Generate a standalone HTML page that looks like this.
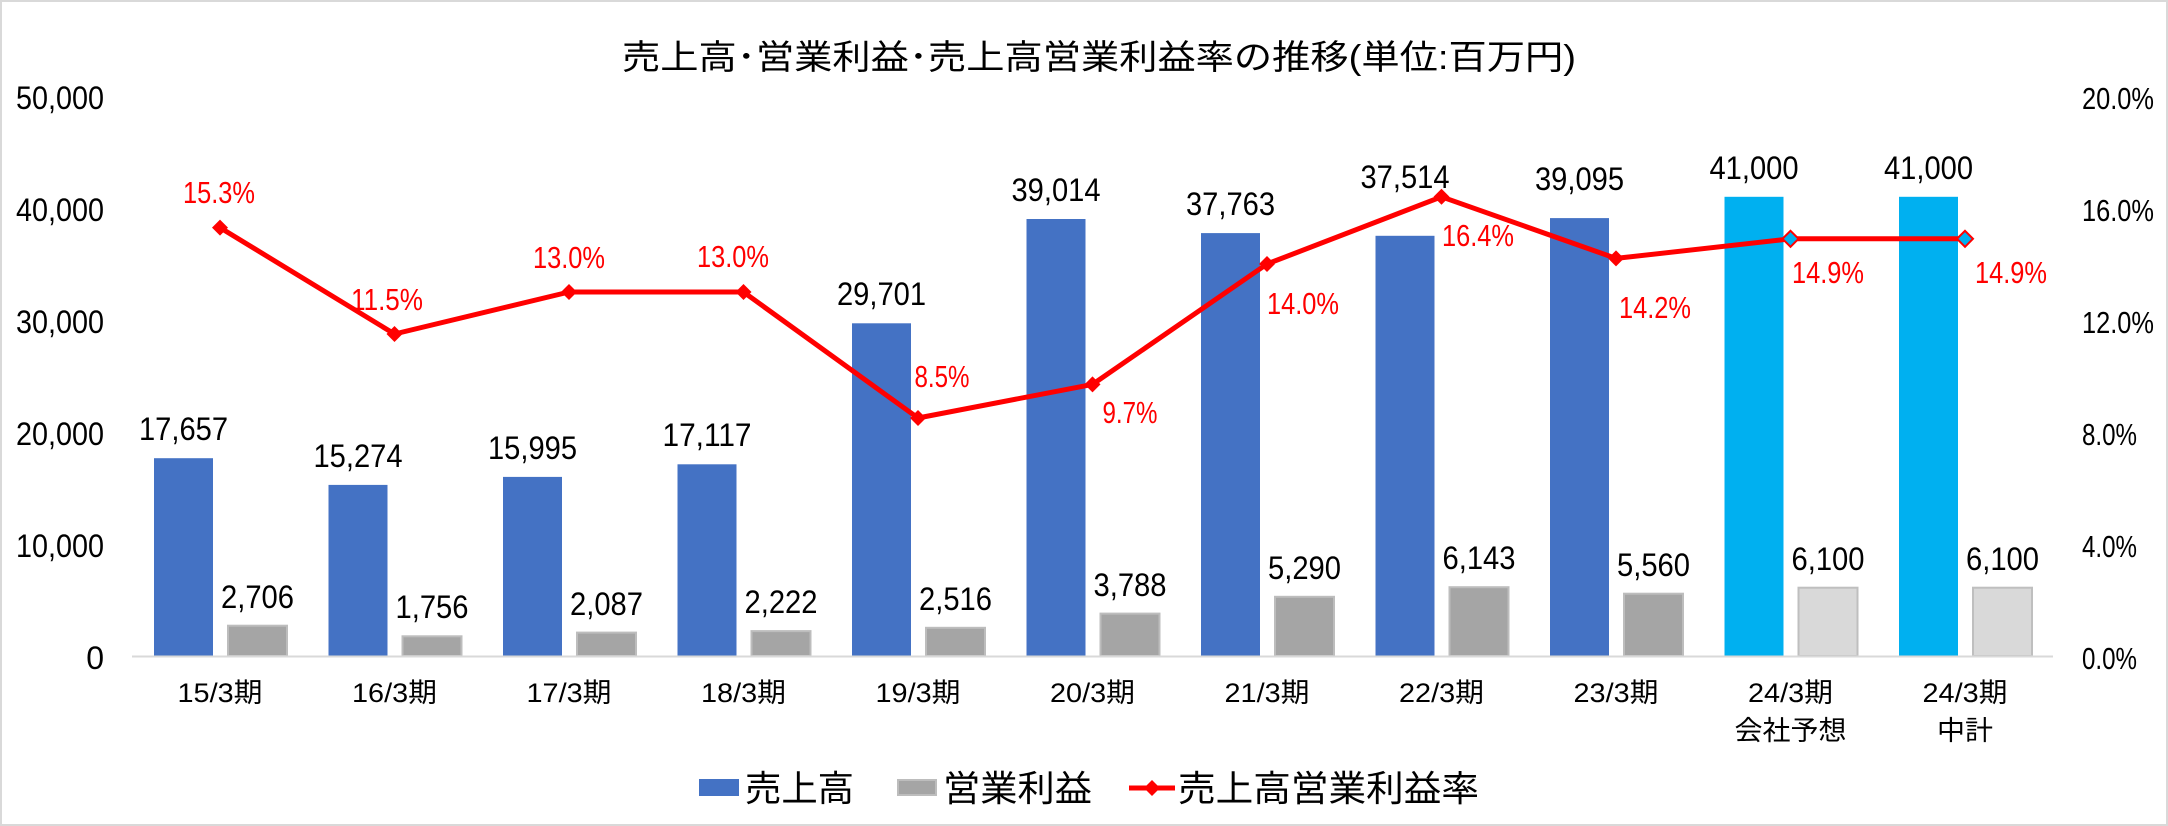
<!DOCTYPE html>
<html><head><meta charset="utf-8"><style>
html,body{margin:0;padding:0;background:#fff;}
svg{display:block;}
text{font-family:"Liberation Sans","Noto Sans CJK JP",sans-serif;}
</style></head><body>
<svg width="2168" height="826" viewBox="0 0 2168 826" xmlns="http://www.w3.org/2000/svg">
<rect x="1" y="1" width="2166" height="824" fill="#fff" stroke="#d9d9d9" stroke-width="2"/>
<text x="622" y="69" font-size="34" textLength="954" lengthAdjust="spacingAndGlyphs" fill="#000">売上高･営業利益･売上高営業利益率の推移(単位:百万円)</text>

<g font-size="32" fill="#000" text-anchor="end">
<text x="104" y="109" textLength="88" lengthAdjust="spacingAndGlyphs">50,000</text>
<text x="104" y="221" textLength="88" lengthAdjust="spacingAndGlyphs">40,000</text>
<text x="104" y="333" textLength="88" lengthAdjust="spacingAndGlyphs">30,000</text>
<text x="104" y="445" textLength="88" lengthAdjust="spacingAndGlyphs">20,000</text>
<text x="104" y="557" textLength="88" lengthAdjust="spacingAndGlyphs">10,000</text>
<text x="104" y="669">0</text>
</g>
<g font-size="31" fill="#000">
<text x="2082" y="109" textLength="72" lengthAdjust="spacingAndGlyphs">20.0%</text>
<text x="2082" y="221" textLength="72" lengthAdjust="spacingAndGlyphs">16.0%</text>
<text x="2082" y="333" textLength="72" lengthAdjust="spacingAndGlyphs">12.0%</text>
<text x="2082" y="445" textLength="55" lengthAdjust="spacingAndGlyphs">8.0%</text>
<text x="2082" y="557" textLength="55" lengthAdjust="spacingAndGlyphs">4.0%</text>
<text x="2082" y="669" textLength="55" lengthAdjust="spacingAndGlyphs">0.0%</text>
</g>

<g fill="#4472C4">
<rect x="154" y="458.2" width="59" height="197.8"/>
<rect x="328.5" y="484.9" width="59" height="171.1"/>
<rect x="503" y="476.9" width="59" height="179.1"/>
<rect x="677.5" y="464.3" width="59" height="191.7"/>
<rect x="852" y="323.3" width="59" height="332.7"/>
<rect x="1026.5" y="219" width="59" height="437"/>
<rect x="1201" y="233.1" width="59" height="422.9"/>
<rect x="1375.5" y="235.8" width="59" height="420.2"/>
<rect x="1550" y="218.1" width="59" height="437.9"/>
</g>
<g fill="#00B0F0">
<rect x="1724.5" y="196.8" width="59" height="459.2"/>
<rect x="1899" y="196.8" width="59" height="459.2"/>
</g>
<g fill="#A5A5A5" stroke="#BDBDBD" stroke-width="2">
<rect x="228" y="625.7" width="59" height="30.3"/>
<rect x="402.5" y="636.3" width="59" height="19.7"/>
<rect x="577" y="632.6" width="59" height="23.4"/>
<rect x="751.5" y="631.1" width="59" height="24.9"/>
<rect x="926" y="627.8" width="59" height="28.2"/>
<rect x="1100.5" y="613.6" width="59" height="42.4"/>
<rect x="1275" y="596.8" width="59" height="59.2"/>
<rect x="1449.5" y="587.2" width="59" height="68.8"/>
<rect x="1624" y="593.7" width="59" height="62.3"/>
</g>
<g fill="#D9D9D9" stroke="#BFBFBF" stroke-width="2">
<rect x="1798.5" y="587.7" width="59" height="68.3"/>
<rect x="1973" y="587.7" width="59" height="68.3"/>
</g>
<line x1="132" y1="656.5" x2="2053" y2="656.5" stroke="#d9d9d9" stroke-width="2"/>

<g font-size="32" fill="#000" text-anchor="middle" lengthAdjust="spacingAndGlyphs">
<text x="183.5" y="440" textLength="89" lengthAdjust="spacingAndGlyphs">17,657</text>
<text x="358" y="467" textLength="89" lengthAdjust="spacingAndGlyphs">15,274</text>
<text x="532.5" y="459" textLength="89" lengthAdjust="spacingAndGlyphs">15,995</text>
<text x="707" y="446" textLength="89" lengthAdjust="spacingAndGlyphs">17,117</text>
<text x="881.5" y="305" textLength="89" lengthAdjust="spacingAndGlyphs">29,701</text>
<text x="1056" y="201" textLength="89" lengthAdjust="spacingAndGlyphs">39,014</text>
<text x="1230.5" y="215" textLength="89" lengthAdjust="spacingAndGlyphs">37,763</text>
<text x="1405" y="188" textLength="89" lengthAdjust="spacingAndGlyphs">37,514</text>
<text x="1579.5" y="190" textLength="89" lengthAdjust="spacingAndGlyphs">39,095</text>
<text x="1754" y="179" textLength="89" lengthAdjust="spacingAndGlyphs">41,000</text>
<text x="1928.5" y="179" textLength="89" lengthAdjust="spacingAndGlyphs">41,000</text>
<text x="257.5" y="608" textLength="73" lengthAdjust="spacingAndGlyphs">2,706</text>
<text x="432" y="618" textLength="73" lengthAdjust="spacingAndGlyphs">1,756</text>
<text x="606.5" y="615" textLength="73" lengthAdjust="spacingAndGlyphs">2,087</text>
<text x="781" y="613" textLength="73" lengthAdjust="spacingAndGlyphs">2,222</text>
<text x="955.5" y="610" textLength="73" lengthAdjust="spacingAndGlyphs">2,516</text>
<text x="1130" y="596" textLength="73" lengthAdjust="spacingAndGlyphs">3,788</text>
<text x="1304.5" y="579" textLength="73" lengthAdjust="spacingAndGlyphs">5,290</text>
<text x="1479" y="569" textLength="73" lengthAdjust="spacingAndGlyphs">6,143</text>
<text x="1653.5" y="576" textLength="73" lengthAdjust="spacingAndGlyphs">5,560</text>
<text x="1828" y="570" textLength="73" lengthAdjust="spacingAndGlyphs">6,100</text>
<text x="2002.5" y="570" textLength="73" lengthAdjust="spacingAndGlyphs">6,100</text>
</g>

<polyline fill="none" stroke="#FF0000" stroke-width="5" stroke-linejoin="round"
 points="220,227.6 394.5,334 569,292 743.5,292 918,418 1092.5,384.4 1267,264 1441.5,196.8 1616,258.4 1790.5,238.8 1965,238.8"/>
<g fill="#FF0000">
<path d="M220,219.6 l8,8 l-8,8 l-8,-8z"/>
<path d="M394.5,326 l8,8 l-8,8 l-8,-8z"/>
<path d="M569,284 l8,8 l-8,8 l-8,-8z"/>
<path d="M743.5,284 l8,8 l-8,8 l-8,-8z"/>
<path d="M918,410 l8,8 l-8,8 l-8,-8z"/>
<path d="M1092.5,376.4 l8,8 l-8,8 l-8,-8z"/>
<path d="M1267,256 l8,8 l-8,8 l-8,-8z"/>
<path d="M1441.5,188.8 l8,8 l-8,8 l-8,-8z"/>
<path d="M1616,250.4 l8,8 l-8,8 l-8,-8z"/>
</g>
<g fill="#00B0F0" stroke="#FF0000" stroke-width="2">
<path d="M1790.5,230.8 l8,8 l-8,8 l-8,-8z"/>
<path d="M1965,230.8 l8,8 l-8,8 l-8,-8z"/>
</g>

<g font-size="31" fill="#FF0000" text-anchor="middle">
<text x="219" y="203" textLength="72" lengthAdjust="spacingAndGlyphs">15.3%</text>
<text x="387" y="310" textLength="72" lengthAdjust="spacingAndGlyphs">11.5%</text>
<text x="569" y="268" textLength="72" lengthAdjust="spacingAndGlyphs">13.0%</text>
<text x="733" y="267" textLength="72" lengthAdjust="spacingAndGlyphs">13.0%</text>
<text x="942" y="387" textLength="55" lengthAdjust="spacingAndGlyphs">8.5%</text>
<text x="1130" y="423" textLength="55" lengthAdjust="spacingAndGlyphs">9.7%</text>
<text x="1303" y="314" textLength="72" lengthAdjust="spacingAndGlyphs">14.0%</text>
<text x="1478" y="246" textLength="72" lengthAdjust="spacingAndGlyphs">16.4%</text>
<text x="1655" y="318" textLength="72" lengthAdjust="spacingAndGlyphs">14.2%</text>
<text x="1828" y="283" textLength="72" lengthAdjust="spacingAndGlyphs">14.9%</text>
<text x="2011" y="283" textLength="72" lengthAdjust="spacingAndGlyphs">14.9%</text>
</g>

<g font-size="27" fill="#000" text-anchor="middle">
<text x="220" y="702" textLength="85" lengthAdjust="spacingAndGlyphs">15/3期</text>
<text x="394.5" y="702" textLength="85" lengthAdjust="spacingAndGlyphs">16/3期</text>
<text x="569" y="702" textLength="85" lengthAdjust="spacingAndGlyphs">17/3期</text>
<text x="743.5" y="702" textLength="85" lengthAdjust="spacingAndGlyphs">18/3期</text>
<text x="918" y="702" textLength="85" lengthAdjust="spacingAndGlyphs">19/3期</text>
<text x="1092.5" y="702" textLength="85" lengthAdjust="spacingAndGlyphs">20/3期</text>
<text x="1267" y="702" textLength="85" lengthAdjust="spacingAndGlyphs">21/3期</text>
<text x="1441.5" y="702" textLength="85" lengthAdjust="spacingAndGlyphs">22/3期</text>
<text x="1616" y="702" textLength="85" lengthAdjust="spacingAndGlyphs">23/3期</text>
<text x="1790.5" y="702" textLength="85" lengthAdjust="spacingAndGlyphs">24/3期</text>
<text x="1790.5" y="740" textLength="112" lengthAdjust="spacingAndGlyphs">会社予想</text>
<text x="1965" y="702" textLength="85" lengthAdjust="spacingAndGlyphs">24/3期</text>
<text x="1965" y="740" textLength="56" lengthAdjust="spacingAndGlyphs">中計</text>
</g>

<rect x="699" y="779" width="40" height="17" fill="#4472C4"/>
<text x="745" y="801" font-size="36" textLength="109" lengthAdjust="spacingAndGlyphs">売上高</text>
<rect x="898" y="780" width="38" height="15" fill="#A5A5A5" stroke="#BDBDBD" stroke-width="2"/>
<text x="943" y="801" font-size="36" textLength="149" lengthAdjust="spacingAndGlyphs">営業利益</text>
<line x1="1129" y1="788" x2="1175" y2="788" stroke="#FF0000" stroke-width="5"/>
<path d="M1152,780 l8,8 l-8,8 l-8,-8z" fill="#FF0000"/>
<text x="1178" y="801" font-size="36" textLength="301" lengthAdjust="spacingAndGlyphs">売上高営業利益率</text>
</svg>
</body></html>
